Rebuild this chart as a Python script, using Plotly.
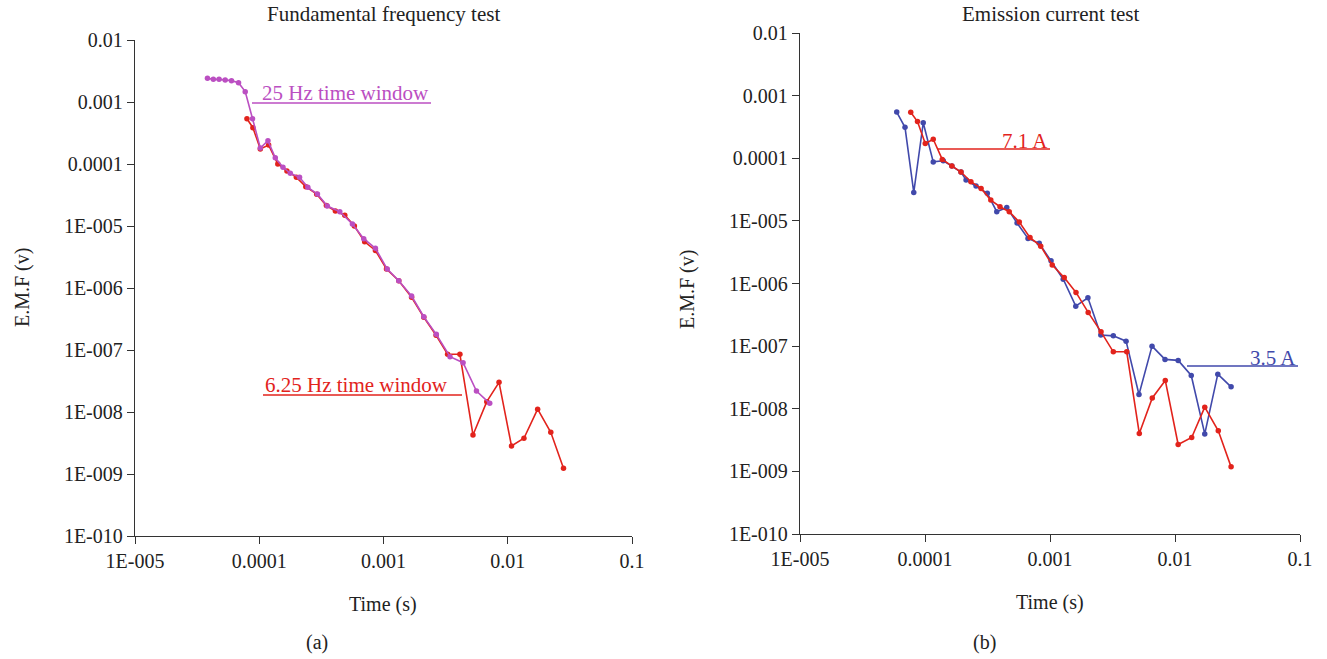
import plotly.graph_objects as go

W, H = 1327, 659

# ---- data ----
t_25hz = [3.83e-5, 4.27e-5, 4.75e-5, 5.32e-5, 5.98e-5, 6.81e-5, 7.71e-5, 8.83e-5, 1.02e-4, 1.175e-4,
          1.346e-4, 1.552e-4, 1.778e-4, 2.11e-4, 2.46e-4, 2.94e-4, 3.53e-4, 4.45e-4, 5.62e-4, 6.93e-4,
          8.61e-4, 1.072e-3, 1.327e-3, 1.683e-3, 2.11e-3, 2.66e-3, 3.43e-3, 4.37e-3, 5.60e-3, 7.16e-3]
v_25hz = [2.41e-3, 2.32e-3, 2.32e-3, 2.26e-3, 2.21e-3, 2.05e-3, 1.47e-3, 5.38e-4, 1.81e-4, 2.38e-4,
          1.26e-4, 8.85e-5, 7.08e-5, 6.10e-5, 4.21e-5, 3.28e-5, 2.10e-5, 1.70e-5, 1.08e-5, 6.24e-6,
          4.37e-6, 2.02e-6, 1.31e-6, 7.43e-7, 3.44e-7, 1.79e-7, 7.80e-8, 6.24e-8, 2.18e-8, 1.38e-8]

t_625hz = [7.96e-5, 8.89e-5, 1.02e-4, 1.19e-4, 1.41e-4, 1.67e-4, 1.99e-4, 2.37e-4, 2.90e-4, 3.47e-4,
           4.10e-4, 4.88e-4, 5.83e-4, 7.05e-4, 8.61e-4, 1.057e-3, 1.327e-3, 1.683e-3, 2.11e-3, 2.65e-3,
           3.28e-3, 4.12e-3, 5.25e-3, 6.78e-3, 8.51e-3, 1.072e-2, 1.35e-2, 1.74e-2, 2.22e-2, 2.81e-2]
v_625hz = [5.38e-4, 3.85e-4, 1.75e-4, 2.02e-4, 1.0e-4, 7.71e-5, 6.1e-5, 4.31e-5, 3.26e-5, 2.14e-5,
           1.75e-5, 1.49e-5, 1.0e-5, 5.56e-6, 4.03e-6, 2.02e-6, 1.31e-6, 7.08e-7, 3.37e-7, 1.73e-7,
           8.53e-8, 8.53e-8, 4.26e-9, 1.47e-8, 3.01e-8, 2.83e-9, 3.77e-9, 1.11e-8, 4.71e-9, 1.24e-9]

t_35a = [5.94e-5, 6.92e-5, 8.13e-5, 9.68e-5, 1.164e-4, 1.40e-4, 1.64e-4, 1.94e-4, 2.13e-4, 2.56e-4,
         3.15e-4, 3.75e-4, 4.51e-4, 5.45e-4, 6.67e-4, 8.20e-4, 1.019e-3, 1.276e-3, 1.607e-3, 2.01e-3,
         2.55e-3, 3.21e-3, 4.06e-3, 5.15e-3, 6.55e-3, 8.32e-3, 1.06e-2, 1.349e-2, 1.73e-2, 2.20e-2, 2.81e-2]
v_35a = [5.47e-4, 3.12e-4, 2.85e-5, 3.69e-4, 8.75e-5, 9.12e-5, 7.50e-5, 6.03e-5, 4.49e-5, 3.60e-5,
         2.75e-5, 1.40e-5, 1.64e-5, 9.23e-6, 5.25e-6, 4.38e-6, 2.31e-6, 1.17e-6, 4.35e-7, 5.92e-7,
         1.50e-7, 1.46e-7, 1.20e-7, 1.69e-8, 1.0e-7, 6.14e-8, 5.92e-8, 3.40e-8, 3.97e-9, 3.57e-8, 2.24e-8]

t_71a = [7.69e-5, 8.71e-5, 1.005e-4, 1.164e-4, 1.374e-4, 1.64e-4, 1.94e-4, 2.33e-4, 2.81e-4, 3.36e-4,
         3.98e-4, 4.72e-4, 5.68e-4, 6.92e-4, 8.43e-4, 1.042e-3, 1.30e-3, 1.614e-3, 2.02e-3, 2.56e-3,
         3.21e-3, 4.11e-3, 5.18e-3, 6.58e-3, 8.36e-3, 1.06e-2, 1.36e-2, 1.73e-2, 2.22e-2, 2.81e-2]
v_71a = [5.41e-4, 3.85e-4, 1.72e-4, 2.01e-4, 9.59e-5, 7.50e-5, 6.03e-5, 4.22e-5, 3.30e-5, 2.15e-5,
         1.68e-5, 1.40e-5, 9.57e-6, 5.41e-6, 3.95e-6, 1.97e-6, 1.25e-6, 7.21e-7, 3.45e-7, 1.69e-7,
         8.11e-8, 8.11e-8, 4.03e-9, 1.49e-8, 2.83e-8, 2.69e-9, 3.48e-9, 1.06e-8, 4.44e-9, 1.18e-9]

x_tickvals = [1e-5, 1e-4, 1e-3, 1e-2, 1e-1]
x_ticktext = ["1E-005", "0.0001", "0.001", "0.01", "0.1"]
y_tickvals = [1e-2, 1e-3, 1e-4, 1e-5, 1e-6, 1e-7, 1e-8, 1e-9, 1e-10]
y_ticktext = ["0.01", "0.001", "0.0001", "1E-005", "1E-006", "1E-007", "1E-008", "1E-009", "1E-010"]

PURPLE = "#BB4FC2"
RED = "#E2231C"
BLUE = "#4149AB"
AXC = "#333333"
FONT = "Liberation Serif"
FS = 20


def px(x):
    return x / W


def py(y):
    return 1 - y / H


fig = go.Figure()

def add(t, v, color, xa, ya, name):
    fig.add_trace(go.Scatter(x=t, y=v, mode="lines+markers", name=name,
                             line=dict(color=color, width=1.6),
                             marker=dict(color=color, size=5.5),
                             xaxis=xa, yaxis=ya, showlegend=False))

add(t_625hz, v_625hz, RED, "x", "y", "6.25 Hz")
add(t_25hz, v_25hz, PURPLE, "x", "y", "25 Hz")
add(t_35a, v_35a, BLUE, "x2", "y2", "3.5 A")
add(t_71a, v_71a, RED, "x2", "y2", "7.1 A")

axis_common = dict(type="log", showline=True, linecolor=AXC, linewidth=1.4, ticks="outside",
                   ticklen=7, tickwidth=1.4, tickcolor=AXC, showgrid=False, zeroline=False,
                   automargin=False,
                   tickfont=dict(family=FONT, size=FS, color="#222"))

fig.update_layout(
    width=W, height=H, margin=dict(l=0, r=0, t=0, b=0, autoexpand=False),
    paper_bgcolor="white", plot_bgcolor="white",
    font=dict(family=FONT, size=FS, color="#222"),
    xaxis=dict(domain=[px(135), px(632)], range=[-5, -1], anchor="y",
               tickvals=x_tickvals, ticktext=x_ticktext, **axis_common),
    yaxis=dict(domain=[py(536), py(40)], range=[-10, -2], anchor="x",
               tickvals=y_tickvals, ticktext=y_ticktext, **axis_common),
    xaxis2=dict(domain=[px(800), px(1300)], range=[-5, -1], anchor="y2",
                tickvals=x_tickvals, ticktext=x_ticktext, **axis_common),
    yaxis2=dict(domain=[py(534), py(33)], range=[-10, -2], anchor="x2",
                tickvals=y_tickvals, ticktext=y_ticktext, **axis_common),
)

def text(x, y, s, color="#222", size=FS, xanchor="center", angle=0):
    fig.add_annotation(x=px(x), y=py(y), xref="paper", yref="paper", text=s, showarrow=False,
                       xanchor=xanchor, yanchor="middle", textangle=angle,
                       font=dict(family=FONT, size=size, color=color))

def hline(x0, x1, y, color):
    fig.add_shape(type="line", xref="paper", yref="paper", x0=px(x0), x1=px(x1),
                  y0=py(y), y1=py(y), line=dict(color=color, width=1.4))

# titles
text(383, 14, "Fundamental frequency test", size=21)
text(1050, 14, "Emission current test", size=21)
# axis titles
text(22, 288, "E.M.F (v)", angle=-90)
text(688, 290, "E.M.F (v)", angle=-90)
text(383, 604, "Time (s)")
text(1050, 602, "Time (s)")
text(317, 642, "(a)")
text(985, 642, "(b)")

# series labels
text(260, 93, "25 Hz time window", color=PURPLE, size=21, xanchor="left")
hline(252, 431, 103, PURPLE)
text(263, 385, "6.25 Hz time window", color=RED, size=21, xanchor="left")
hline(263, 462, 395, RED)
text(1000, 141, "7.1 A", color=RED, size=21, xanchor="left")
hline(938, 1050, 149, RED)
text(1248, 358, "3.5 A", color=BLUE, size=21, xanchor="left")
hline(1187, 1298, 366, BLUE)

fig.write_html("out.html")
